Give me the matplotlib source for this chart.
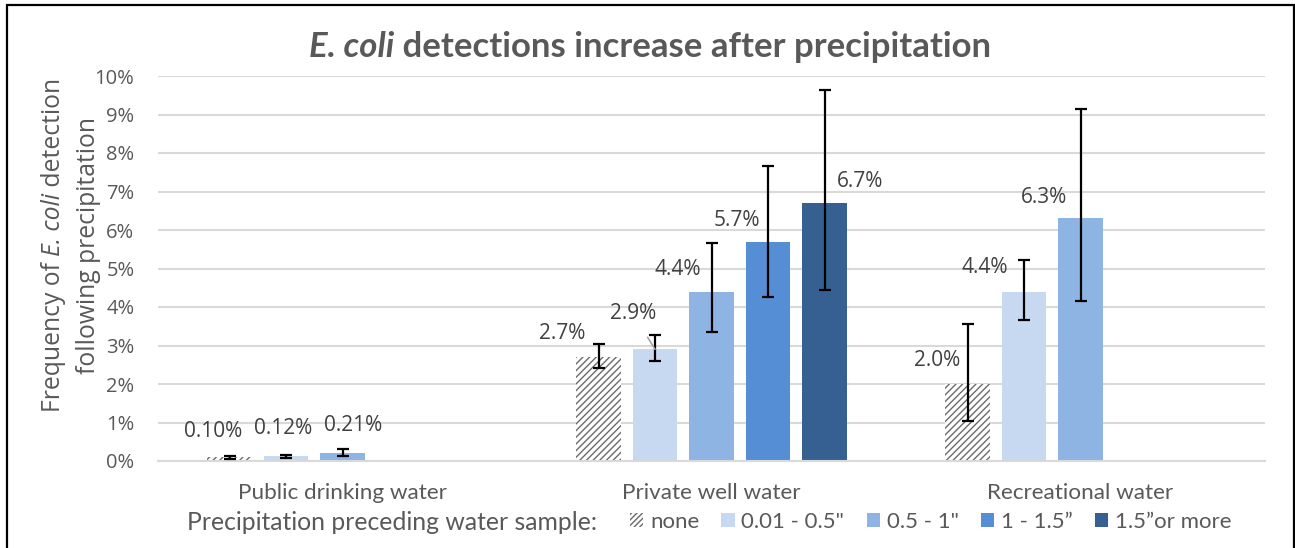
import matplotlib
matplotlib.use("Agg")
import matplotlib.pyplot as plt
import numpy as np
from matplotlib.patches import Patch, Rectangle

# ---------------- data ----------------
categories = ["Public drinking water", "Private well water", "Recreational water"]
series = ["none", "0.01 - 0.5\"", "0.5 - 1\"", "1 - 1.5\u201d", "1.5\u201dor more"]

# values in percent (None = no bar)
none_vals = [0.10, 2.7, 2.0]
p01_vals = [0.12, 2.9, 4.4]
p05_vals = [0.21, 4.4, 6.3]
p10_vals = [None, 5.7, None]
p15_vals = [None, 6.7, None]

# confidence interval bounds (percent)
none_lo = [0.06, 2.42, 1.05]
none_hi = [0.14, 3.03, 3.57]
p01_lo = [0.08, 2.59, 3.66]
p01_hi = [0.16, 3.27, 5.22]
p05_lo = [0.13, 3.34, 4.16]
p05_hi = [0.31, 5.65, 9.15]
p10_lo = [None, 4.27, None]
p10_hi = [None, 7.66, None]
p15_lo = [None, 4.44, None]
p15_hi = [None, 9.63, None]

label_texts = {
    0: ["0.10%", "2.7%", "2.0%"],
    1: ["0.12%", "2.9%", "4.4%"],
    2: ["0.21%", "4.4%", "6.3%"],
    3: [None, "5.7%", None],
    4: [None, "6.7%", None],
}

yticks = [0, 1, 2, 3, 4, 5, 6, 7, 8, 9, 10]

# ---------------- style ----------------
colors = ["white", "#C6D9F1", "#8EB4E3", "#558ED5", "#376092"]
TXT = "#595959"
DLBL = "#404040"
GRID = "#D9D9D9"
HATCH_C = "#6b6b6b"

plt.rcParams["hatch.color"] = HATCH_C
plt.rcParams["hatch.linewidth"] = 1.0

W, H = 1295, 548
fig = plt.figure(figsize=(W / 100, H / 100), dpi=100)
ax = fig.add_axes([158 / W, 1 - 461 / H, (1265 - 158) / W, (461 - 76) / H])

vals = [none_vals, p01_vals, p05_vals, p10_vals, p15_vals]
los = [none_lo, p01_lo, p05_lo, p10_lo, p15_lo]
his = [none_hi, p01_hi, p05_hi, p10_hi, p15_hi]

slot = 56.5 / 369
bw = 44.5 / 369
x = np.arange(len(categories))

# label offsets in pixels (dx, dy) relative to bar top
offsets = {
    0: [(-16, 26), (-36, 24), (-30, 24)],
    1: [(-3, 28), (-22, 36), (-39, 24)],
    2: [(11, 27), (-34, 22), (-37, 21)],
    3: [None, (-31, 21), None],
    4: [None, (36, 22), None],
}

for i in range(5):
    for j in range(len(categories)):
        v = vals[i][j]
        if v is None:
            continue
        xpos = x[j] + (i - 2) * slot
        if i == 0:
            ax.bar(xpos, v, width=bw, color="white", edgecolor=HATCH_C,
                   hatch="/////", linewidth=0, zorder=2)
        else:
            ax.bar(xpos, v, width=bw, color=colors[i], edgecolor="none", zorder=2)
        lo, hi = los[i][j], his[i][j]
        ax.errorbar(xpos, v, yerr=[[v - lo], [hi - v]], fmt="none",
                    ecolor="black", elinewidth=1.6, capsize=4.2, capthick=1.6, zorder=4)
        t = label_texts[i][j]
        dx, dy = offsets[i][j]
        kw = dict(xy=(xpos, v), xytext=(dx, dy), textcoords="offset pixels",
                  ha="center", va="center", fontsize=15, color=DLBL,
                  family="Open Sans", zorder=5)
        if i == 1 and j == 1:
            kw["arrowprops"] = dict(arrowstyle="-", color="#A6A6A6", lw=1.2,
                                    shrinkA=9, shrinkB=0)
        ax.annotate(t, **kw)

ax.set_xlim(-0.5, 2.5)
ax.set_ylim(0, 10)
ax.set_yticks(yticks)
ax.set_yticklabels([f"{t}%" for t in yticks], family="Open Sans", fontsize=14.5, color=TXT)
ax.set_xticks(x)
ax.set_xticklabels(categories, family="Lato", fontsize=16.2, color=TXT)
ax.tick_params(axis="both", length=0)
ax.tick_params(axis="y", pad=17)
ax.tick_params(axis="x", pad=16)
ax.yaxis.grid(True, color=GRID, linewidth=1.5, zorder=0)
ax.set_axisbelow(True)
for s in ["top", "right", "left"]:
    ax.spines[s].set_visible(False)
ax.spines["bottom"].set_color(GRID)
ax.spines["bottom"].set_linewidth(1.5)

renderer = fig.canvas.get_renderer()


def rich_text(pieces, cx, cy, rotation=0, **common):
    """Draw consecutive text pieces with different styles, centred at (cx, cy) in pixels."""
    arts = []
    sizes = []
    for txt, st in pieces:
        kw = dict(common)
        kw.update(st)
        if rotation == 0:
            t = fig.text(0, 0, txt, ha="left", va="baseline", **kw)
            bb = t.get_window_extent(renderer)
            sizes.append(bb.width)
        else:
            t = fig.text(0, 0, txt, rotation=90, rotation_mode="anchor",
                         ha="left", va="center", **kw)
            bb = t.get_window_extent(renderer)
            sizes.append(bb.height)
        arts.append(t)
    total = sum(sizes)
    pos = -total / 2
    for t, s in zip(arts, sizes):
        if rotation == 0:
            t.set_position(((cx + pos) / W, 1 - cy / H))
        else:
            t.set_position((cx / W, (H - cy + pos) / H))
        pos += s
    return arts


# title
rich_text([("E. coli", dict(style="italic")),
           (" detections increase after precipitation", dict())],
          650, 57, family="Lato", fontweight="bold", fontsize=25, color=TXT)

# y label (two lines)
rich_text([("Frequency of ", dict()), ("E. coli", dict(style="italic")), (" detection", dict())],
          54, 245, rotation=90, family="Open Sans", fontsize=17.8, color=TXT)
rich_text([("following precipitation", dict())],
          88, 245, rotation=90, family="Open Sans", fontsize=17.8, color=TXT)

# legend
fig.text(187 / W, 1 - 522 / H, "Precipitation preceding water sample:", ha="left", va="center",
         family="Lato", fontsize=17.8, color=TXT)
handles = [Patch(facecolor="white", edgecolor=HATCH_C, hatch="//////", linewidth=0)]
handles += [Patch(facecolor=c, edgecolor="none") for c in colors[1:]]
leg = fig.legend(handles, series, loc="center left", bbox_to_anchor=(630 / W, 1 - 522 / H),
                 ncol=5, frameon=False, prop={"family": "Lato", "size": 16},
                 handlelength=0.6, handleheight=0.6, handletextpad=0.3,
                 columnspacing=1.0, borderaxespad=0, borderpad=0)
for t in leg.get_texts():
    t.set_color(TXT)

# outer border
fig.patches.append(Rectangle((7 / W, -0.05), (1294 - 7) / W, 1.05 - 5 / H,
                             transform=fig.transFigure, fill=False, edgecolor="black",
                             linewidth=1.6))

fig.savefig("out.png", dpi=100)
